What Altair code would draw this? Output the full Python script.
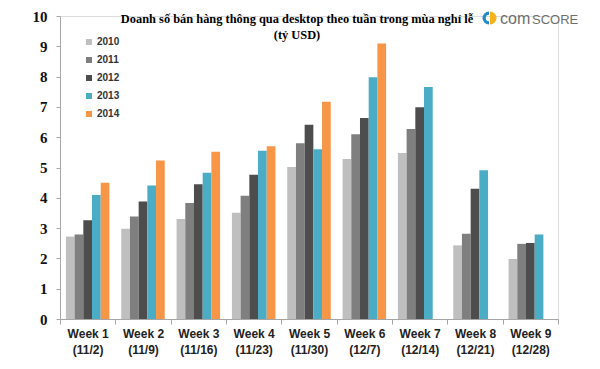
import altair as alt
import pandas as pd

weeks = ["Week 1", "Week 2", "Week 3", "Week 4", "Week 5", "Week 6", "Week 7", "Week 8", "Week 9"]
dates = ["(11/2)", "(11/9)", "(11/16)", "(11/23)", "(11/30)", "(12/7)", "(12/14)", "(12/21)", "(12/28)"]
years = ["2010", "2011", "2012", "2013", "2014"]
v2010 = [2.72, 2.98, 3.30, 3.51, 5.02, 5.28, 5.48, 2.43, 1.98]
v2011 = [2.79, 3.38, 3.83, 4.07, 5.80, 6.10, 6.27, 2.81, 2.48]
v2012 = [3.26, 3.88, 4.45, 4.76, 6.41, 6.63, 6.99, 4.30, 2.51]
v2013 = [4.09, 4.41, 4.83, 5.55, 5.60, 7.98, 7.66, 4.91, 2.79]
v2014 = [4.50, 5.23, 5.52, 5.70, 7.17, 9.09, None, None, None]
colors = ["#BFBFBF", "#7F7F7F", "#4D4D4D", "#4BACC6", "#F79646"]

title1 = "Doanh số bán hàng thông qua desktop theo tuần trong mùa nghỉ lễ"
title2 = "(tỷ USD)"

series = dict(zip(years, [v2010, v2011, v2012, v2013, v2014]))
rows = []
for y, vals in series.items():
    for w, d, v in zip(weeks, dates, vals):
        if v is not None:
            rows.append({"week": w + "|" + d, "year": y, "value": v})
df = pd.DataFrame(rows)
week_domain = [w + "|" + d for w, d in zip(weeks, dates)]

bars = alt.Chart(df).mark_bar().encode(
    x=alt.X("week:N", sort=week_domain,
            scale=alt.Scale(domain=week_domain, paddingInner=0, paddingOuter=0),
            axis=alt.Axis(title=None, labelAngle=0, tickBand="extent",
                          labelExpr="split(datum.label, '|')",
                          labelFont="Liberation Sans", labelFontWeight="bold",
                          labelFontSize=12, labelColor="#222222", labelLineHeight=16,
                          labelPadding=4, tickSize=5, tickColor="#A6A6A6",
                          domainColor="#A6A6A6")),
    xOffset=alt.XOffset("year:N", scale=alt.Scale(domain=years, paddingInner=0, paddingOuter=0.68)),
    y=alt.Y("value:Q", scale=alt.Scale(domain=[0, 10], nice=False),
            axis=alt.Axis(title=None, values=list(range(0, 11)), grid=False,
                          labelFont="Liberation Serif", labelFontWeight="bold",
                          labelFontSize=15, labelColor="#111111", labelPadding=9,
                          tickSize=4, tickColor="#A6A6A6", domainColor="#A6A6A6")),
    color=alt.Color("year:N", scale=alt.Scale(domain=years, range=colors),
                    legend=alt.Legend(title=None, orient="none", legendX=24, legendY=21,
                                      symbolType="square", symbolSize=36, symbolStrokeWidth=0,
                                      labelFont="Liberation Sans", labelFontWeight="bold",
                                      labelFontSize=10, labelColor="#333333", rowPadding=8,
                                      labelOffset=3)),
)

titles = pd.DataFrame({"t": [title1, title2], "ypos": [3, 19]})
title_layer = alt.Chart(titles).mark_text(
    font="Liberation Serif", fontWeight="bold", fontSize=12.4, color="#000000",
    align="center", baseline="middle"
).encode(x=alt.value(237), y=alt.Y("ypos:Q", scale=None), text="t:N")

logo_right = alt.Chart(pd.DataFrame({"a": [0]})).mark_arc(
    theta=0, theta2=3.1416, radius=6.5, color="#F6B21B"
).encode(x=alt.value(430), y=alt.value(2))
logo_left = alt.Chart(pd.DataFrame({"a": [0]})).mark_arc(
    theta=3.1416, theta2=6.2832, radius=6.5, innerRadius=3.2, color="#1F8BC9"
).encode(x=alt.value(429), y=alt.value(2))
logo_com = alt.Chart(pd.DataFrame({"t": ["com"]})).mark_text(
    font="Liberation Sans", fontSize=16, color="#6E6E6E", align="left", baseline="alphabetic"
).encode(x=alt.value(440), y=alt.value(8), text="t:N")
logo_score = alt.Chart(pd.DataFrame({"t": ["SCORE"]})).mark_text(
    font="Liberation Sans", fontSize=13, color="#6E6E6E", align="left", baseline="alphabetic"
).encode(x=alt.value(472), y=alt.value(8), text="t:N")

chart = alt.layer(bars, title_layer, logo_right, logo_left, logo_com, logo_score).properties(
    width=498, height=303,
    autosize=alt.AutoSizeParams(type="none"),
    padding={"left": 52, "top": 8, "right": 34, "bottom": 42},
).configure_view(stroke=None).configure(background="white")

chart.save("out.html", embed_options={"renderer": "svg", "actions": False})
